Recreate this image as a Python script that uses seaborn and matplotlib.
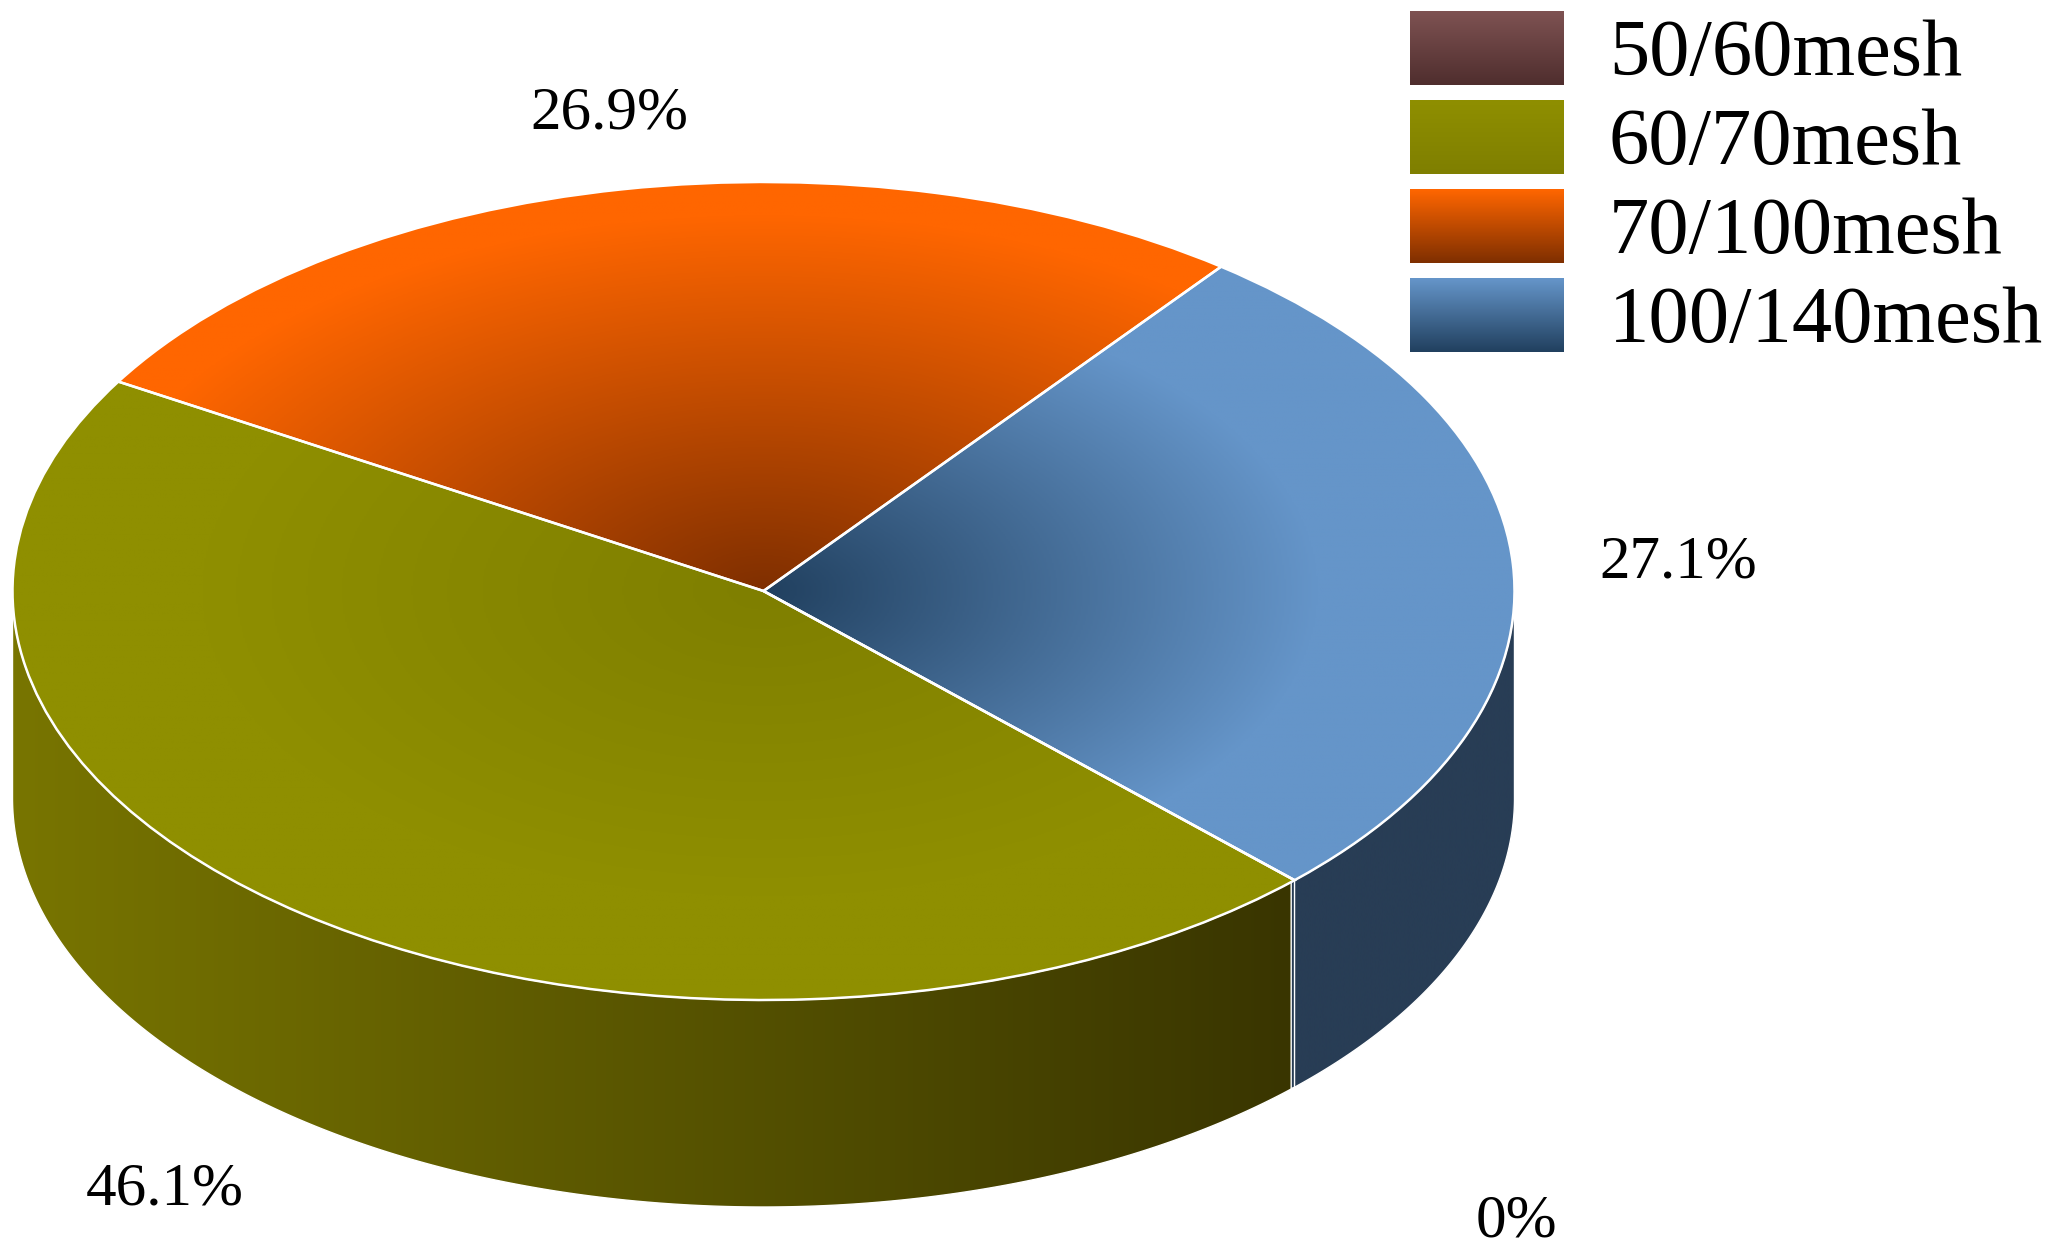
import numpy as np
import matplotlib
matplotlib.use("Agg")
import matplotlib.pyplot as plt
from matplotlib.patches import Patch, Polygon
import seaborn as sns

# Data
categories = ["50/60mesh", "60/70mesh", "70/100mesh", "100/140mesh"]
percent_values = [0, 46.1, 26.9, 27.1]

# Colours: (dark, light) per slice
top_dark = ["#4f2e2e", "#7f7f00", "#7f2f00", "#21405f"]
top_light = ["#7e5252", "#8f8f00", "#ff6600", "#6595c9"]
side_left = ["#4f2e2e", "#787500", "#7f2f00", "#283d55"]
side_right = ["#4f2e2e", "#393500", "#7f2f00", "#283d55"]
gradient_reach = [0.8, 0.75, 0.92, 0.74]

# Layout, in pixels of the output picture
FIG_W, FIG_H = 2054, 1258
CX, CY, RX, RY = 763.5, 591, 751, 409
DEPTH = 207 / RY
START_ANGLE = -45
LABEL_PX = [(1516, 1222), (165, 1190), (609, 114), (1678, 563)]

sns.set_theme(style="white")
plt.rcParams["font.family"] = ["Liberation Serif", "DejaVu Serif"]

fig = plt.figure(figsize=(FIG_W / 100, FIG_H / 100), dpi=100, facecolor="white")
ax = fig.add_axes([0, 0, 1, 1])


def to_data(px, py):
    return (px - CX) / RX, (CY - py) / RY


# Top face
wedges, _ = ax.pie(
    percent_values,
    startangle=START_ANGLE,
    counterclock=False,
    radius=1,
    colors=["none"] * 4,
    wedgeprops={"edgecolor": "white", "linewidth": 1.8, "zorder": 3},
)

grid = np.linspace(-1.02, 1.02, 900)
xx, yy = np.meshgrid(grid, grid)
rr = np.sqrt(xx**2 + yy**2)

for i, wedge in enumerate(wedges):
    if percent_values[i] == 0:
        continue
    cmap = sns.blend_palette([top_dark[i], top_light[i]], as_cmap=True)
    img = ax.imshow(
        np.clip(rr / gradient_reach[i], 0, 1),
        extent=(-1.02, 1.02, -1.02, 1.02),
        origin="lower",
        cmap=cmap,
        vmin=0,
        vmax=1,
        aspect="auto",
        zorder=2,
    )
    img.set_clip_path(wedge)

# Side wall: only the front half of the rim can be seen
angle = START_ANGLE
for i, value in enumerate(percent_values):
    next_angle = angle - value * 3.6
    a1 = (next_angle + 360) % 360 if next_angle < 0 else next_angle
    a0 = a1 + value * 3.6
    angle = next_angle
    lo, hi = max(a1, 180), min(a0, 360)
    if value == 0 or hi <= lo:
        continue
    t = np.radians(np.linspace(lo, hi, 300))
    xs = np.cos(t)
    ys = np.sin(t)
    pts = np.column_stack(
        [np.r_[xs, xs[::-1]], np.r_[ys, ys[::-1] - DEPTH]]
    )
    wall = Polygon(pts, closed=True, facecolor="none", edgecolor="white", linewidth=1.0, zorder=1.5)
    ax.add_patch(wall)
    cmap = sns.blend_palette([side_left[i], side_right[i]], as_cmap=True)
    img = ax.imshow(
        np.linspace(0, 1, 500).reshape(1, -1),
        extent=(pts[:, 0].min(), pts[:, 0].max(), pts[:, 1].min(), pts[:, 1].max()),
        cmap=cmap,
        vmin=0,
        vmax=1,
        aspect="auto",
        zorder=1,
    )
    img.set_clip_path(wall)

ax.set_aspect("auto")
ax.axis("off")

# Percent labels
for value, (px, py) in zip(percent_values, LABEL_PX):
    lx, ly = to_data(px, py)
    ax.text(lx, ly, f"{value:g}%", fontsize=44, color="black", ha="center", va="center", zorder=5)

ax.set_xlim(to_data(0, 0)[0], to_data(FIG_W, 0)[0])
ax.set_ylim(to_data(0, FIG_H)[1], to_data(0, 0)[1])

# Legend, the swatches get their gradient afterwards
handles = [Patch(facecolor=c, edgecolor="none") for c in top_light]
leg = ax.legend(
    handles,
    categories,
    loc="upper left",
    bbox_to_anchor=(1410 / FIG_W, 1 - 11 / FIG_H),
    frameon=False,
    fontsize=58,
    handlelength=1.91,
    handleheight=1.03,
    handletextpad=0.56,
    labelspacing=0.095,
    borderpad=0,
    borderaxespad=0,
)
for text in leg.get_texts():
    text.set_color("black")

fig.canvas.draw()
inv = ax.transData.inverted()
for i, patch in enumerate(leg.get_patches()):
    box = patch.get_window_extent()
    (x0, y0), (x1, y1) = inv.transform([(box.x0, box.y0), (box.x1, box.y1)])
    cmap = sns.blend_palette([top_dark[i], top_light[i]], as_cmap=True)
    ax.imshow(
        np.linspace(0, 1, 100).reshape(-1, 1),
        extent=(x0, x1, y0, y1),
        origin="lower",
        cmap=cmap,
        aspect="auto",
        zorder=6,
    )

ax.set_xlim(to_data(0, 0)[0], to_data(FIG_W, 0)[0])
ax.set_ylim(to_data(0, FIG_H)[1], to_data(0, 0)[1])

fig.savefig("out.png", dpi=100)
